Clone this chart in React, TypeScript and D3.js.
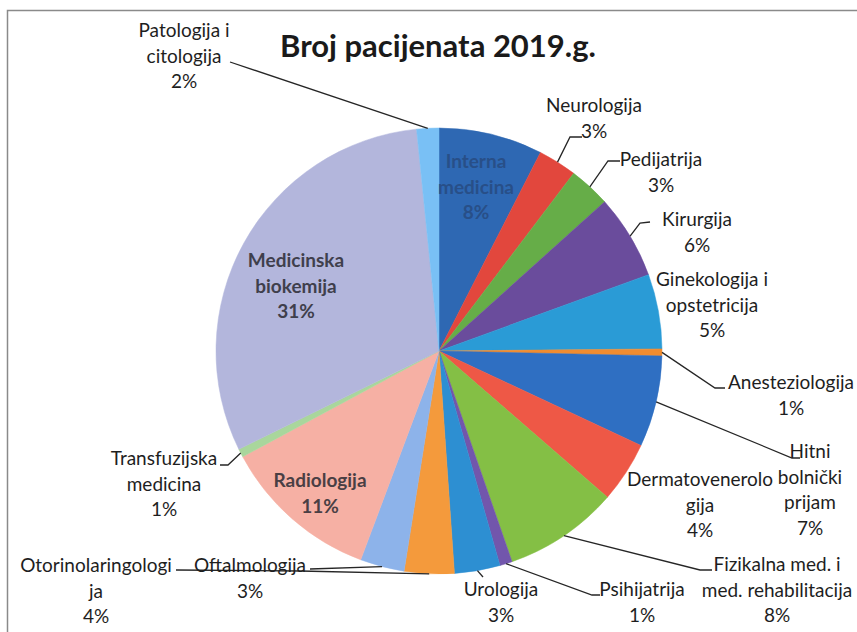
import React from "react";
import * as d3 from "d3";

const categories = [
  "Interna medicina",
  "Neurologija",
  "Pedijatrija",
  "Kirurgija",
  "Ginekologija i opstetricija",
  "Anesteziologija",
  "Hitni bolnički prijam",
  "Dermatovenerologija",
  "Fizikalna med. i med. rehabilitacija",
  "Psihijatrija",
  "Urologija",
  "Otorinolaringologija",
  "Oftalmologija",
  "Radiologija",
  "Transfuzijska medicina",
  "Medicinska biokemija",
  "Patologija i citologija",
];

const values = [7.5, 2.8, 3.0, 6.1, 5.4, 0.5, 6.6, 4.4, 8.3, 0.9, 3.3, 3.6, 3.2, 11.4, 0.6, 30.6, 1.6];

const percentLabels = ["8%", "3%", "3%", "6%", "5%", "1%", "7%", "4%", "8%", "1%", "3%", "4%", "3%", "11%", "1%", "31%", "2%"];

const labelLines: string[][] = [
  ["Interna", "medicina"],
  ["Neurologija"],
  ["Pedijatrija"],
  ["Kirurgija"],
  ["Ginekologija i", "opstetricija"],
  ["Anesteziologija"],
  ["Hitni", "bolnički", "prijam"],
  ["Dermatovenerolo", "gija"],
  ["Fizikalna med. i", "med. rehabilitacija"],
  ["Psihijatrija"],
  ["Urologija"],
  ["Otorinolaringologi", "ja"],
  ["Oftalmologija"],
  ["Radiologija"],
  ["Transfuzijska", "medicina"],
  ["Medicinska", "biokemija"],
  ["Patologija i", "citologija"],
];

const colors = [
  "#2e68b3", "#e2473d", "#66ad48", "#6a4c9c", "#2a9bd6", "#f08c30",
  "#2f6fc2", "#ee5846", "#84bf45", "#7256ac", "#2d8fd2", "#f49a3c",
  "#8db3ea", "#f6b0a4", "#a9d69c", "#b3b6dc", "#79c0f5",
];

const title = "Broj pacijenata 2019.g.";

// layout (label anchor: center x, first baseline; leader elbow points)
type Lay = { x: number; y: number; inside?: boolean; color?: string; leader?: [number, number][] };
const layout: Lay[] = [
  { x: 476, y: 168, inside: true, color: "#284f88" },
  { x: 594, y: 112, leader: [[582, 137], [570, 137]] },
  { x: 661, y: 166, leader: [[620, 161], [608, 161]] },
  { x: 697, y: 226, leader: [[650, 222], [640, 223]] },
  { x: 712, y: 286 },
  { x: 791, y: 389, leader: [[725, 388], [715, 388]] },
  { x: 810, y: 458, leader: [[800, 458], [792, 458]] },
  { x: 700, y: 486 },
  { x: 777, y: 571, leader: [[712, 570], [700, 570]] },
  { x: 642, y: 596, leader: [[600, 595], [592, 595]] },
  { x: 501, y: 596, leader: [[483, 577]] },
  { x: 96, y: 572, leader: [[176, 570], [300, 571]] },
  { x: 250, y: 572, leader: [[310, 569]] },
  { x: 320, y: 487, inside: true, color: "#4a3f44" },
  { x: 164, y: 465, leader: [[220, 465], [228, 465]] },
  { x: 296, y: 267, inside: true, color: "#3f3f4c" },
  { x: 184, y: 37, leader: [[230, 62]] },
];

const W = 857;
const H = 632;
const cx = 439;
const cy = 351;
const R = 223;
const LH = 25.5;
const FONT = "Lato, 'Open Sans', sans-serif";

export default function App() {
  const pie = d3.pie<number>().sort(null).value((d) => d)(values);
  const arc = d3.arc<d3.PieArcDatum<number>>().innerRadius(0).outerRadius(R);
  const line = d3.line();

  return (
    <svg width={W} height={H} style={{ position: "absolute", left: 0, top: 0, background: "#fff" }}>
      <rect x={7.5} y={10.5} width={W + 10} height={H + 10} fill="#fff" stroke="#8a8a8a" strokeWidth={1.5} />
      <text x={438} y={57} textAnchor="middle" fontFamily={FONT} fontWeight={700} fontSize={31} fill="#1a1a1a">
        {title}
      </text>
      <g transform={`translate(${cx},${cy})`}>
        {pie.map((p, i) => (
          <path key={categories[i]} d={arc(p) || ""} fill={colors[i]} stroke={colors[i]} strokeWidth={0.5} />
        ))}
      </g>
      {pie.map((p, i) => {
        const lay = layout[i];
        if (!lay.leader) return null;
        const mid = (p.startAngle + p.endAngle) / 2;
        const end: [number, number] = [cx + R * Math.sin(mid), cy - R * Math.cos(mid)];
        const pts: [number, number][] = [...lay.leader, end];
        return <path key={"l" + i} d={line(pts) || ""} fill="none" stroke="#262626" strokeWidth={1.3} />;
      })}
      {labelLines.map((lines, i) => {
        const lay = layout[i];
        const all = [...lines, percentLabels[i]];
        return (
          <text
            key={"t" + i}
            textAnchor="middle"
            fontFamily={FONT}
            fontSize={19}
            fontWeight={lay.inside ? 700 : 400}
            fill={lay.inside ? lay.color : "#1e1e1e"}
          >
            {all.map((s, k) => (
              <tspan key={k} x={lay.x} y={lay.y + k * LH}>
                {s}
              </tspan>
            ))}
          </text>
        );
      })}
    </svg>
  );
}
